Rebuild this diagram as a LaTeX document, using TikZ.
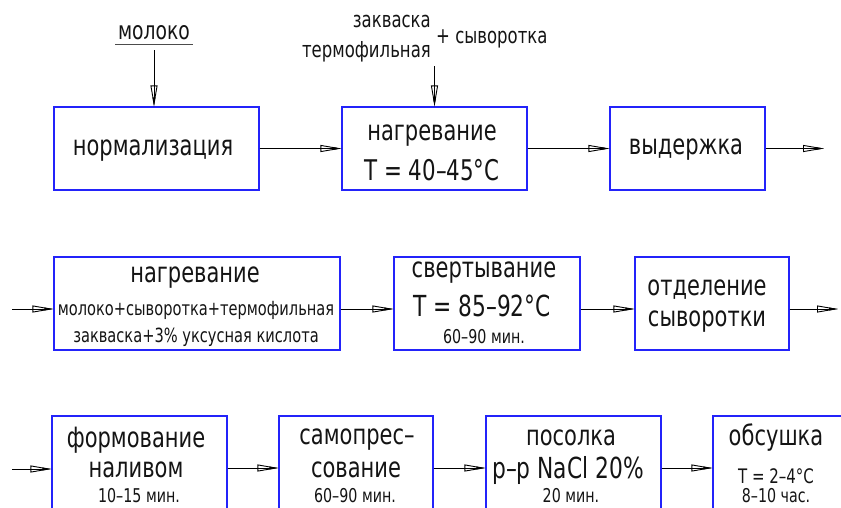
\documentclass[tikz,border=0pt]{standalone}
\usepackage{fontspec}
\setmainfont{DejaVu Sans}[FakeStretch=0.75]
\usetikzlibrary{arrows.meta}
\definecolor{boxblue}{RGB}{35,35,250}
\definecolor{ink}{RGB}{20,20,20}

\tikzset{
  stage/.style={draw=boxblue, line width=1.2pt, inner sep=0pt},
  lbl/.style={inner sep=0pt, text=ink},
  big/.style={lbl, font=\fontsize{28}{30}\selectfont},
  bigger/.style={lbl, font=\fontsize{29}{31}\selectfont},
  mid/.style={lbl, font=\fontsize{22}{24}\selectfont},
  small/.style={lbl, font=\fontsize{19.5}{21}\selectfont},
  tiny/.style={lbl, font=\fontsize{19}{21}\selectfont},
  flow/.style={draw=black, line width=0.8pt,
    -{Triangle[open, length=21pt, width=7pt, line width=0.9pt]},
    postaction={draw, line width=0.8pt, -{Triangle[length=9pt, width=2.8pt]}}},
}

\begin{document}
\begin{tikzpicture}[x=1pt, y=-1pt]
\useasboundingbox (0,0) rectangle (841,507);
\clip (0,0) rectangle (841,507);

% ---------- row 1 ----------
\node[stage, minimum width=205pt, minimum height=83pt] (norm) at (156.5,148.5) {};
\node[stage, minimum width=185pt, minimum height=83pt] (heat1) at (434.5,148.5) {};
\node[stage, minimum width=155pt, minimum height=83pt] (hold) at (687.5,148.5) {};

\node[big] (tnorm) at (153,151) {нормализация};
\node[big] (theat1a) at (432,136) {нагревание};
\node[lbl, font=\fontsize{28.5}{30}\selectfont] (theat1b) at (432,170) {T = 40–45°C};
\node[big] (thold) at (686,150) {выдержка};

\node[lbl, font=\fontsize{25}{27}\selectfont] (milk) at (154,33) {молоко};
\draw[black!70, line width=1.5pt] (115,44.5) -- (193,44.5);
\coordinate (milkend) at (154,50);
\draw[flow] (milkend) -- (milkend |- norm.north);

\node[mid, anchor=east] (starter1) at (431,21) {закваска};
\node[mid, anchor=east] (starter2) at (431,52) {термофильная};
\node[mid, anchor=west] (whey) at (436,39) {+ сыворотка};
\coordinate (addend) at (434.5,66);
\draw[flow] (addend) -- (addend |- heat1.north);

\draw[flow] (norm) -- (heat1);
\draw[flow] (heat1) -- (hold);
\coordinate (out1) at (824,148.5);
\draw[flow] (hold) -- (out1);

% ---------- row 2 ----------
\coordinate (r2) at (0,309);
\node[stage, minimum width=286pt, minimum height=93pt] (heat2) at (197,303.5) {};
\node[stage, minimum width=186pt, minimum height=93pt] (curd) at (487,303.5) {};
\node[stage, minimum width=154pt, minimum height=93pt] (sep) at (712,303.5) {};

\node[big] (theat2a) at (195,278) {нагревание};
\node[small] (theat2b) at (196,310) {молоко+сыворотка+термофильная};
\node[small] (theat2c) at (196,337) {закваска+3\% уксусная кислота};

\node[big] (tcurda) at (484,273) {свертывание};
\node[bigger] (tcurdb) at (482,306) {T = 85–92°C};
\node[tiny] (tcurdc) at (484,337) {60–90 мин.};

\node[big] (tsepa) at (707,290) {отделение};
\node[big] (tsepb) at (707,322) {сыворотки};

\coordinate (in2) at (12,309);
\coordinate (out2) at (838,309);
\draw[flow] (in2) -- (in2 -| heat2.west);
\draw[flow] (heat2.east |- r2) -- (curd.west |- r2);
\draw[flow] (curd.east |- r2) -- (sep.west |- r2);
\draw[flow] (sep.east |- r2) -- (out2);

% ---------- row 3 ----------
\node[stage, minimum width=175pt, minimum height=104pt] (mold) at (139.5,468) {};
\node[stage, minimum width=154pt, minimum height=104pt] (press) at (356,468) {};
\node[stage, minimum width=175pt, minimum height=104pt] (salt) at (573.5,468) {};
\node[stage, minimum width=157pt, minimum height=104pt] (dry) at (791.5,468) {};

\node[big] (tmolda) at (136,440) {формование};
\node[big] (tmoldb) at (136,470) {наливом};
\node[tiny] (tmoldc) at (139,495.5) {10–15 мин.};

\node[big] (tpressa) at (357,440) {самопрес–};
\node[big] (tpressb) at (356,470) {сование};
\node[tiny] (tpressc) at (355,495.5) {60–90 мин.};

\node[big] (tsalta) at (571,438) {посолка};
\node[bigger] (tsaltb) at (568,470) {р–р NaCl 20\%};
\node[tiny] (tsaltc) at (571,496) {20 мин.};

\node[big] (tdrya) at (776,438) {обсушка};
\node[lbl, font=\fontsize{20}{22}\selectfont] (tdryb) at (776,476) {T = 2–4°C};
\node[tiny] (tdryc) at (776,495.5) {8–10 час.};

\coordinate (in3) at (12,469);
\draw[flow] (in3) -- (in3 -| mold.west);
\draw[flow] (mold) -- (press);
\draw[flow] (press) -- (salt);
\draw[flow] (salt) -- (dry.west |- salt);
\end{tikzpicture}
\end{document}
